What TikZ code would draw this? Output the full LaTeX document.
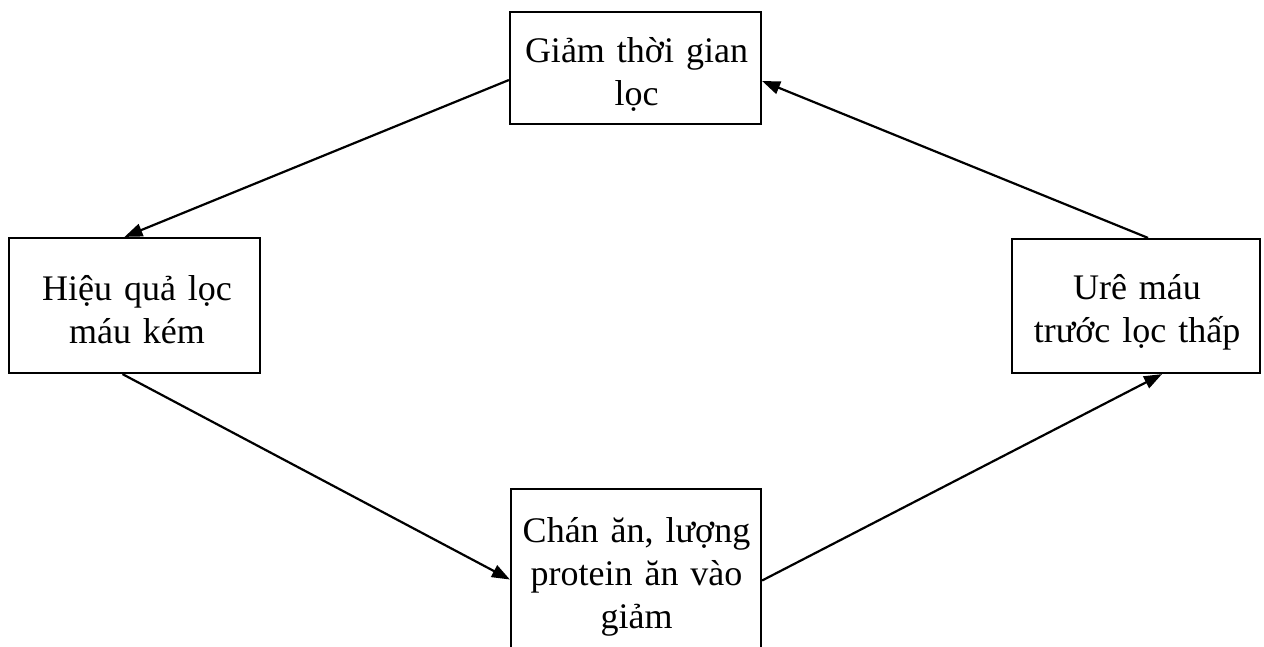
\documentclass[tikz,border=0pt]{standalone}
\usepackage{fontspec}
\setmainfont{Liberation Serif}
\usetikzlibrary{arrows.meta,calc}
\begin{document}
\begin{tikzpicture}[x=1pt,y=-1pt,
  box/.style={draw,line width=2.2pt,minimum width=#1,inner sep=0pt},
  lbl/.style={anchor=base,align=center,text width=260pt,inner sep=0pt,
    font=\fontsize{36}{43}\selectfont},
  arr/.style={line width=2.2pt,-{Triangle[length=18pt,width=13pt]}}]
\useasboundingbox (0,0) rectangle (1264,646);
\fill[white] (0,0) rectangle (1264,646);
\node[box=251pt,minimum height=112pt] (tb) at (635.5,68) {};
\node[box=251pt,minimum height=135pt] (lb) at (134.5,305.5) {};
\node[box=248pt,minimum height=134pt] (rb) at (1136,306) {};
\node[box=250pt,minimum height=175pt] (bb) at (636,576.5) {};
\node[lbl] (tt) at (636.5,62) {Giảm thời gian\\lọc};
\node[lbl] (lt) at (137,300) {Hiệu quả lọc\\máu kém};
\node[lbl] (rt) at (1137,299) {Urê máu\\trước lọc thấp};
\node[lbl] (bt) at (636.5,542) {Chán ăn, lượng\\protein ăn vào\\giảm};
\draw[arr] ([yshift=-12pt]tb.west) -- ([xshift=-10pt]lb.north);
\draw[arr] ([xshift=-12pt]lb.south) -- ([yshift=-3pt]bb.west);
\draw[arr] ([yshift=-4pt]bb.east) -- ([xshift=26pt]rb.south);
\draw[arr] ([xshift=12pt]rb.north) -- ([yshift=-13pt]tb.east);
\end{tikzpicture}
\end{document}
